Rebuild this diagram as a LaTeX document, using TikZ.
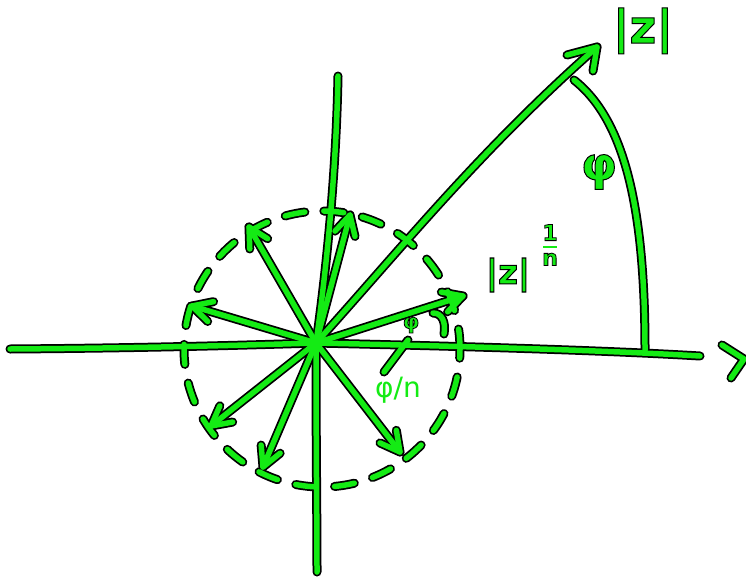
\documentclass[tikz,border=0pt]{standalone}
\usepackage{fontspec}
\newfontfamily\hand{DejaVu Sans}
\usetikzlibrary{calc}
\definecolor{gc}{RGB}{20,235,20}
\newcommand\outl[2]{\special{pdf:literal 2 Tr 0 0 0 RG #1 w}#2\special{pdf:literal 0 Tr}}
\tikzset{
  outer/.style={draw=black, line width=9pt, line cap=round, line join=round},
  inner/.style={draw=gc, line width=5.5pt, line cap=round, line join=round},
  dashc/.style={dash pattern=on 20pt off 19pt},
  lbl/.style={text=gc, inner sep=0pt, font=\hand\bfseries}
}
\newcommand\headat[3]{\draw[#1] ($(#2)!22pt!28:(#3)$) -- (#2) -- ($(#2)!22pt!-28:(#3)$);}
\newcommand\sketch[1]{%
  % axes
  \draw[#1] (xl) .. controls (150,348) and (250,345) .. (O) .. controls (450,346) and (600,350) .. (xr);
  \draw[#1] (cha) -- (chb) -- (chc);
  \draw[#1] (yt) .. controls (336,180) and (325,280) .. (O) .. controls (316,450) and (317,520) .. (yb);
  % big arrow
  \draw[#1] (O) .. controls (400,250) and (480,150) .. (Z);
  \draw[#1] (zha) -- (Z) -- (zhb);
  % big arc
  \draw[#1] (arcA) .. controls (622,118) and (645,200) .. (arcB);
  % roots
  \foreach \t in {r1,r2,r3,r4,r5,r6,r7} {\draw[#1] (O) -- (\t); \headat{#1}{\t}{O}}
  % small angle mark
  \draw[#1] (ma) .. controls (442,313) and (446,322) .. (mb);
  % leader
  \draw[#1] (la) -- (lb);
  % dashed circle
  \draw[#1, dashc] (C) circle (138pt);
}
\begin{document}
\begin{tikzpicture}[x=1pt,y=-1pt]
\useasboundingbox (0,0) rectangle (746,578);
\coordinate (O) at (316,343);
\coordinate (xl) at (10,349);
\coordinate (xr) at (700,356);
\coordinate (cha) at (722,345);
\coordinate (chb) at (744,359);
\coordinate (chc) at (731,378);
\coordinate (yt) at (338,76);
\coordinate (yb) at (317,572);
\coordinate (Z) at (597,47);
\coordinate (zha) at (567,55);
\coordinate (zhb) at (593,71);
\coordinate (arcA) at (574,80);
\coordinate (arcB) at (645,350);
\coordinate (r1) at (463,296);
\coordinate (r2) at (350,215);
\coordinate (r3) at (249,227);
\coordinate (r4) at (192,306);
\coordinate (r5) at (211,426);
\coordinate (r6) at (263,467);
\coordinate (r7) at (400,452);
\coordinate (ma) at (433,313);
\coordinate (mb) at (444,334);
\coordinate (la) at (408,340);
\coordinate (lb) at (384,372);
\coordinate (C) at (322,349);
\sketch{outer}
\sketch{inner}
\node[lbl] (lz) at (643,31) {\fontsize{46}{46}\selectfont\outl{1}{|z|}};
\node[lbl] (lphi) at (599,172) {\fontsize{46}{46}\selectfont\outl{1}{φ}};
\node[lbl] (lroot) at (508,275) {\fontsize{34}{34}\selectfont\outl{1}{|z|}};
\node[lbl] (lexp) at (550,245) {\fontsize{22}{22}\selectfont\shortstack{\outl{0.8}{1}\\[2pt]{\color{gc}\rule{14pt}{2.5pt}}\\[2pt]\outl{0.8}{n}}};
\node[lbl] (lsphi) at (411,325) {\fontsize{21}{21}\selectfont\outl{0.8}{φ}};
\node[lbl, font=\hand] (lphin) at (398,390) {\fontsize{28}{28}\selectfont φ/n};
\end{tikzpicture}
\end{document}
